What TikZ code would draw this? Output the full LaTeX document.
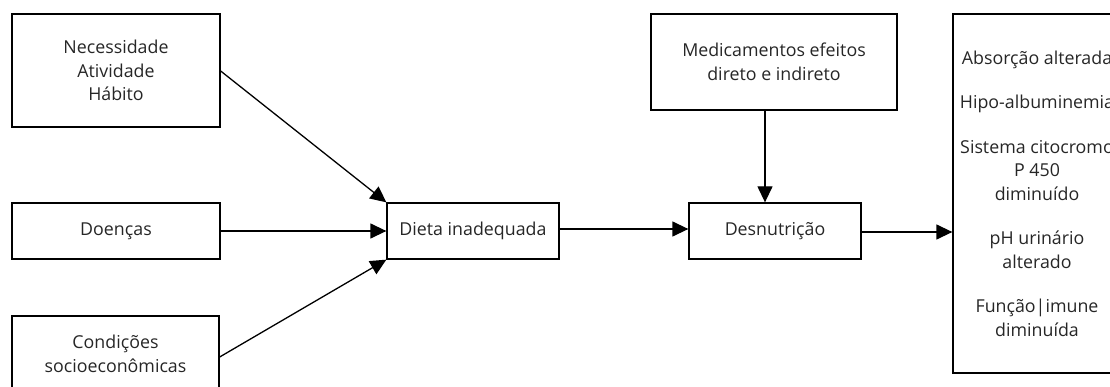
\documentclass[tikz,border=0pt]{standalone}
\usepackage{fontspec}
\setmainfont{Open Sans}
\usepackage{tikz}
\usetikzlibrary{positioning,arrows.meta}
\tikzstyle{flow_edge}=[-{Triangle[length=16pt,width=15pt]}, draw=black, line width=1.3pt]
\tikzstyle{factor}=[rectangle, draw=black, line width=1.3pt, align=center, inner sep=0pt, text=black!85, font=\fontsize{17.8}{23.5}\selectfont]

\begin{document}
\begin{tikzpicture}[x=1pt,y=-1pt]
        \useasboundingbox (0,0) rectangle (1110,387);
        \node [style={factor}, minimum width=208, minimum height=113] (0) at (116, 70.5) {Necessidade\\Atividade\\Hábito};
        \node [style={factor}, minimum width=208, minimum height=56] (1) at (116, 231) {Doenças};
        \node [style={factor}, minimum width=207, minimum height=76] (2) at (115.5, 354) {Condições\\socioeconômicas};
        \node [style={factor}, minimum width=172, minimum height=56] (3) at (473, 231) {Dieta inadequada};
        \node [style={factor}, minimum width=172, minimum height=56] (4) at (775, 231) {Desnutrição};
        \node [style={factor}, minimum width=246, minimum height=96] (5) at (774, 62) {Medicamentos efeitos\\direto e indireto};
        \node [style={factor}, minimum width=168, minimum height=359] (6) at (1037, 193.5) {Absorção alterada\\[21pt]Hipo-albuminemia\\[21pt]Sistema citocromo\\P 450\\diminuído\\[21pt]pH urinário\\alterado\\[21pt]Função|imune\\diminuída};
        \draw[style={flow_edge}]{} ([yshift=-0.5]0.east) to (3.north west);
        \draw[style={flow_edge}]{} (1.east) to (3.west);
        \draw[style={flow_edge}]{} ([yshift=-3]2.east) to (3.south west);
        \draw[style={flow_edge}]{} ([yshift=2]3.east) to ([yshift=2]4.west);
        \draw[style={flow_edge}]{} ([xshift=-9]5.south) to ([xshift=-10]4.north);
        \draw[style={flow_edge}]{} ([yshift=-1]4.east) to ([yshift=-1]4.east -| 6.west);
    \end{tikzpicture}
\end{document}
